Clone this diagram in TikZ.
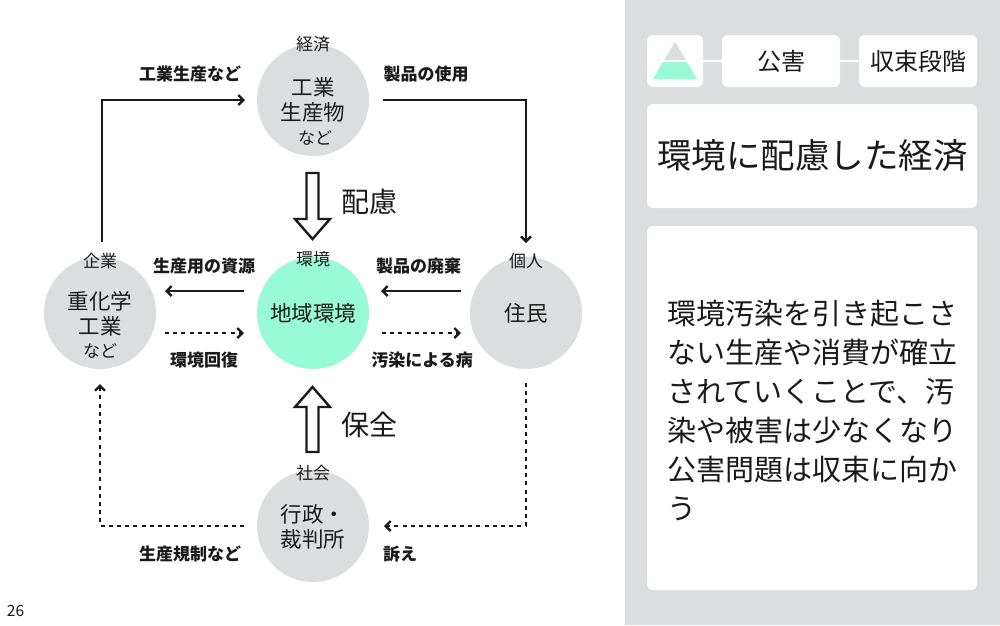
\documentclass[tikz,border=0pt]{standalone}
\usepackage{fontspec}
\setmainfont{Noto Sans CJK JP}
\usetikzlibrary{arrows.meta,calc}
\definecolor{panel}{HTML}{DCDDDF}
\definecolor{mint}{HTML}{98FAD6}
\definecolor{ink}{HTML}{1A1A1A}
\tikzset{
  x=1pt,y=-1pt,
  every node/.style={inner sep=0pt,outer sep=0pt,text=ink},
  hub/.style={circle,minimum size=112pt,fill=panel},
  hubmain/.style={font=\fontsize{21.5}{25}\selectfont,align=center},
  hubsmall/.style={font=\fontsize{17}{20}\selectfont},
  flowlabel/.style={font=\fontsize{17}{20}\selectfont\bfseries},
  bigword/.style={font=\fontsize{28}{32}\selectfont},
  flow/.style={line width=2.4pt,ink,-{Straight Barb[length=5pt,width=10pt,line width=2.4pt]}},
  dotflow/.style={flow,dash pattern=on 4pt off 4.2pt},
  blockarrow/.style={line width=2.4pt,draw=ink,fill=white,line join=miter},
  card/.style={fill=white,rounded corners=6pt},
  tie/.style={draw=white,line width=2pt}
}
\begin{document}
\begin{tikzpicture}
\useasboundingbox (0,0) rectangle (1000,625);
\fill[white] (0,0) rectangle (1000,625);
\fill[panel] (625,0) rectangle (1000,625);

% Four actors around the regional environment
\node[hub] (econ) at (313,100) {};
\node[hub] (firm) at (100,313) {};
\node[hub] (resident) at (526,313) {};
\node[hub] (society) at (313,526) {};
\node[hub,fill=mint] (env) at (313,313) {};

\node[hubsmall] (econT) at (313,44.5) {経済};
\node[hubmain] (econM) at (313,100) {工業\\生産物};
\node[hubsmall] (econS) at (315,137.5) {など};
\node[hubsmall] (firmT) at (100,261.5) {企業};
\node[hubmain] (firmM) at (100,313.5) {重化学\\工業};
\node[hubsmall] (firmS) at (100,350.5) {など};
\node[hubsmall] (resT) at (526,261.5) {個人};
\node[hubmain] (resM) at (526,313.5) {住民};
\node[hubsmall] (envT) at (313,259.5) {環境};
\node[hubmain] (envM) at (313,313.5) {地域環境};
\node[hubsmall] (socT) at (313,473.5) {社会};
\node[hubmain] (socM) at (313,526.5) {行政・\\裁判所};

% Flows along the outer loop
\draw[flow,shorten <=15pt,shorten >=12pt] ([xshift=2pt]firm.north) |- (econ.west);
\draw[flow,shorten <=14pt,shorten >=14pt] (econ.east) -| (resident.north);
\draw[dotflow,shorten <=14pt,shorten >=15pt] (resident.south) |- (society.east);
\draw[dotflow,shorten <=13pt,shorten >=15pt] (society.west) -| (firm.south);

% Flows to and from the central circle
\draw[flow,shorten <=13pt,shorten >=9pt] ([yshift=22pt]env.west) -- ([yshift=22pt]firm.east);
\draw[dotflow,shorten <=9pt,shorten >=13pt] ([yshift=-20pt]firm.east) -- ([yshift=-20pt]env.west);
\draw[flow,shorten <=9pt,shorten >=12pt] ([yshift=22pt]resident.west) -- ([yshift=22pt]env.east);
\draw[dotflow,shorten <=13pt,shorten >=9pt] ([yshift=-20pt]env.east) -- ([yshift=-20pt]resident.west);

% Flow labels
\node[flowlabel] (lblA) at (190,74.5) {工業生産など};
\node[flowlabel] (lblB) at (426,74.5) {製品の使用};
\node[flowlabel] (lblC) at (204,266.5) {生産用の資源};
\node[flowlabel] (lblD) at (418.5,266.5) {製品の廃棄};
\node[flowlabel] (lblE) at (204,360.5) {環境回復};
\node[flowlabel] (lblF) at (422,360.5) {汚染による病};
\node[flowlabel] (lblG) at (190,554.5) {生産規制など};
\node[flowlabel] (lblH) at (400,554.5) {訴え};

% Block arrows with their captions
\draw[blockarrow] (306.5,173) -- (318.5,173) -- (318.5,219) -- (330,219) -- (312.5,239) -- (295,219) -- (306.5,219) -- cycle;
\draw[blockarrow] (306.5,452) -- (318.5,452) -- (318.5,407) -- (330,407) -- (312.5,387) -- (295,407) -- (306.5,407) -- cycle;
\node[bigword] (care) at (369,201.5) {配慮};
\node[bigword] (keep) at (369,424.5) {保全};

% Page number
\node[font=\fontsize{15.5}{18}\selectfont] (page) at (15.5,610.5) {26};

% Side panel: header row
\fill[card] (647,35) rectangle (703,87);
\fill[card] (722,35) rectangle (840,87);
\fill[card] (859,35) rectangle (977,87);
\coordinate (iconEdge) at (703,61);
\coordinate (tagLeft) at (722,61);
\coordinate (tagRight) at (840,61);
\coordinate (stageLeft) at (859,61);
\draw[tie] (iconEdge) -- (tagLeft);
\draw[tie] (tagRight) -- (stageLeft);
\fill[panel] (675,42) -- (686,60) -- (664,60) -- cycle;
\fill[mint] (663,62) -- (687,62) -- (697,79) -- (653,79) -- cycle;
\node[font=\fontsize{24}{28}\selectfont] (tag) at (781,61.5) {公害};
\node[font=\fontsize{24}{28}\selectfont] (stage) at (918.5,61.5) {収束段階};

% Side panel: title and explanation
\fill[card] (647,104) rectangle (977,208);
\node[font=\fontsize{34.5}{40}\selectfont] (title) at (812.5,156) {環境に配慮した経済};
\fill[card] (647,226) rectangle (977,590);
\node[font=\fontsize{29}{39}\selectfont,align=left,anchor=north west] (body) at (667,300)
  {環境汚染を引き起こさ\\ない生産や消費が確立\\されていくことで、汚\\染や被害は少なくなり\\公害問題は収束に向か\\う};
\end{tikzpicture}
\end{document}
